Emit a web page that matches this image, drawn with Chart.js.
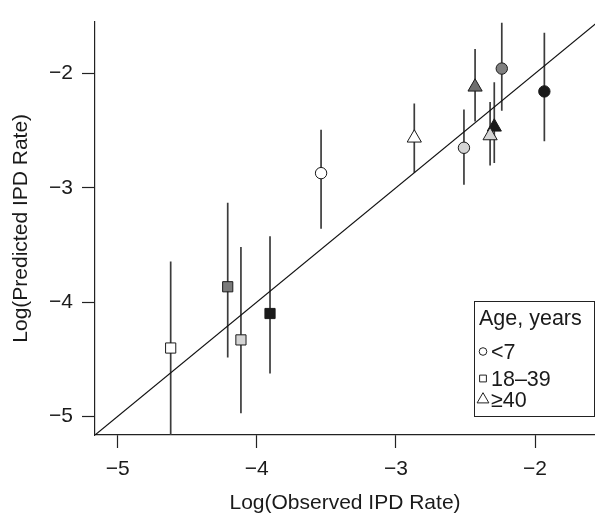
<!DOCTYPE html>
<html lang="en">
<head>
  <meta charset="UTF-8">
  <title>Observed vs Predicted IPD Rate</title>
  <script src="https://cdn.jsdelivr.net/npm/chart.js"></script>
</head>
<body style="margin:0;background:#fff;">
  <div style="width:595px;height:517px;position:relative;">
    <canvas id="ipdChart" width="595" height="517"></canvas>
  </div>
  <script>
    // Data (log scale values)
    const ageGroups = ['<7', '18\u201339', '\u226540'];
    const xTicks = [-5, -4, -3, -2];
    const yTicks = [-5, -4, -3, -2];
    const xRange = [-5.163, -1.569];
    const yRange = [-5.163, -1.546];
    const identityLine = [-5.3, -1.4];

    // age <7 (circles)
    const circleObs  = [-3.538, -2.511, -2.239, -1.933];
    const circlePred = [-2.872, -2.650, -1.957, -2.157];
    const circleLo   = [-3.359, -2.974, -2.325, -2.593];
    const circleHi   = [-2.493, -2.316, -1.556, -1.644];
    const circleFill = ['#ffffff', '#d4d4d4', '#808080', '#1a1a1a'];

    // age 18-39 (squares)
    const squareObs  = [-4.619, -4.209, -4.114, -3.905];
    const squarePred = [-4.402, -3.866, -4.331, -4.100];
    const squareLo   = [-5.300, -4.485, -4.972, -4.626];
    const squareHi   = [-3.644, -3.130, -3.519, -3.425];
    const squareFill = ['#ffffff', '#7a7a7a', '#d4d4d4', '#1a1a1a'];

    // age >=40 (triangles)
    const triObs  = [-2.868, -2.431, -2.293, -2.323];
    const triPred = [-2.564, -2.118, -2.468, -2.544];
    const triLo   = [-2.869, -2.421, -2.784, -2.806];
    const triHi   = [-2.262, -1.786, -2.077, -2.250];
    const triFill = ['#ffffff', '#6e6e6e', '#1a1a1a', '#d4d4d4'];

    const FONT = "'Liberation Sans', Arial, Helvetica, sans-serif";
    const minus = v => String(v).replace('-', '\u2212');
    const toPts = (xs, ys) => xs.map((x, i) => ({ x: x, y: ys[i] }));

    const groups = [
      { label: ageGroups[0], style: 'circle',   r: 5.7, xs: circleObs, ys: circlePred, lo: circleLo, hi: circleHi, fill: circleFill, legR: 3.8 },
      { label: ageGroups[1], style: 'rect',     r: 7.2, xs: squareObs, ys: squarePred, lo: squareLo, hi: squareHi, fill: squareFill, legR: 4.8 },
      { label: ageGroups[2], style: 'triangle', r: 8.2, xs: triObs,    ys: triPred,    lo: triLo,    hi: triHi,    fill: triFill,    legR: 6.8 }
    ];

    // vertical error bars, drawn under the markers
    const errorBars = {
      id: 'errorBars',
      beforeDatasetsDraw(chart) {
        const { ctx, chartArea, scales } = chart;
        ctx.save();
        ctx.beginPath();
        ctx.rect(chartArea.left, chartArea.top, chartArea.right - chartArea.left, chartArea.bottom - chartArea.top);
        ctx.clip();
        ctx.strokeStyle = '#3c3c3c';
        ctx.lineWidth = 1.7;
        groups.forEach(g => {
          g.xs.forEach((x, i) => {
            const px = scales.x.getPixelForValue(x);
            ctx.beginPath();
            ctx.moveTo(px, scales.y.getPixelForValue(g.lo[i]));
            ctx.lineTo(px, scales.y.getPixelForValue(g.hi[i]));
            ctx.stroke();
          });
        });
        ctx.restore();
      }
    };

    // boxed legend in the lower right corner
    const ageLegend = {
      id: 'ageLegend',
      afterDraw(chart) {
        const { ctx, chartArea } = chart;
        const right = chartArea.right - 0.5, bottom = chartArea.bottom - 18.5;
        const w = 120, h = 115;
        const left = right - w, top = bottom - h;
        ctx.save();
        ctx.strokeStyle = '#222';
        ctx.lineWidth = 1;
        ctx.fillStyle = '#fff';
        ctx.fillRect(left, top, w, h);
        ctx.strokeRect(left, top, w, h);
        ctx.fillStyle = '#1a1a1a';
        ctx.font = '21.5px ' + FONT;
        ctx.textBaseline = 'alphabetic';
        ctx.textAlign = 'left';
        ctx.fillText('Age, years', left + 4.5, top + 23);
        const rowY = [50, 77, 98];
        groups.forEach((g, i) => {
          const cy = top + rowY[i];
          ctx.strokeStyle = '#222';
          ctx.fillStyle = '#fff';
          ctx.lineWidth = 1;
          Chart.helpers.drawPoint(ctx, { pointStyle: g.style, rotation: 0, radius: g.legR, borderWidth: 1 }, left + 8.5, cy);
          ctx.fillStyle = '#1a1a1a';
          ctx.fillText(g.label, left + 16.5, cy + 7.5);
        });
        ctx.restore();
      }
    };

    const datasets = [{
      type: 'line',
      data: toPts(identityLine, identityLine),
      borderColor: '#111',
      borderWidth: 1.2,
      pointRadius: 0,
      fill: false,
      order: 5
    }];
    groups.forEach(g => {
      datasets.push({
        type: 'scatter',
        label: g.label,
        data: toPts(g.xs, g.ys),
        pointStyle: g.style,
        pointRadius: g.r,
        pointHoverRadius: g.r,
        pointBackgroundColor: g.fill,
        pointBorderColor: '#1a1a1a',
        pointBorderWidth: 1,
        order: 1
      });
    });

    const axisCommon = (ticks) => ({
      type: 'linear',
      grid: { drawOnChartArea: false, drawTicks: true, tickLength: 13, tickColor: '#222', tickWidth: 1.2 },
      border: { display: true, color: '#222', width: 1.2 },
      afterBuildTicks: s => { s.ticks = ticks.map(v => ({ value: v })); },
      ticks: { color: '#1a1a1a', font: { family: FONT, size: 21 }, padding: 9, callback: minus }
    });

    const xAxis = axisCommon(xTicks);
    xAxis.min = xRange[0]; xAxis.max = xRange[1];
    xAxis.title = { display: true, text: 'Log(Observed IPD Rate)', color: '#1a1a1a', font: { family: FONT, size: 21 }, padding: { top: 4, bottom: 1 } };
    xAxis.afterFit = s => { s.height = 82; };

    const yAxis = axisCommon(yTicks);
    yAxis.min = yRange[0]; yAxis.max = yRange[1];
    yAxis.title = { display: true, text: 'Log(Predicted IPD Rate)', color: '#1a1a1a', font: { family: FONT, size: 21 }, padding: { top: 9, bottom: 4 } };
    yAxis.afterFit = s => { s.width = 95; };

    new Chart(document.getElementById('ipdChart'), {
      type: 'scatter',
      data: { datasets: datasets },
      options: {
        responsive: false,
        animation: false,
        layout: { autoPadding: false, padding: { top: 13, right: 0, bottom: 0, left: 0 } },
        plugins: { legend: { display: false }, tooltip: { enabled: false } },
        scales: { x: xAxis, y: yAxis }
      },
      plugins: [errorBars, ageLegend]
    });
  </script>
</body>
</html>
